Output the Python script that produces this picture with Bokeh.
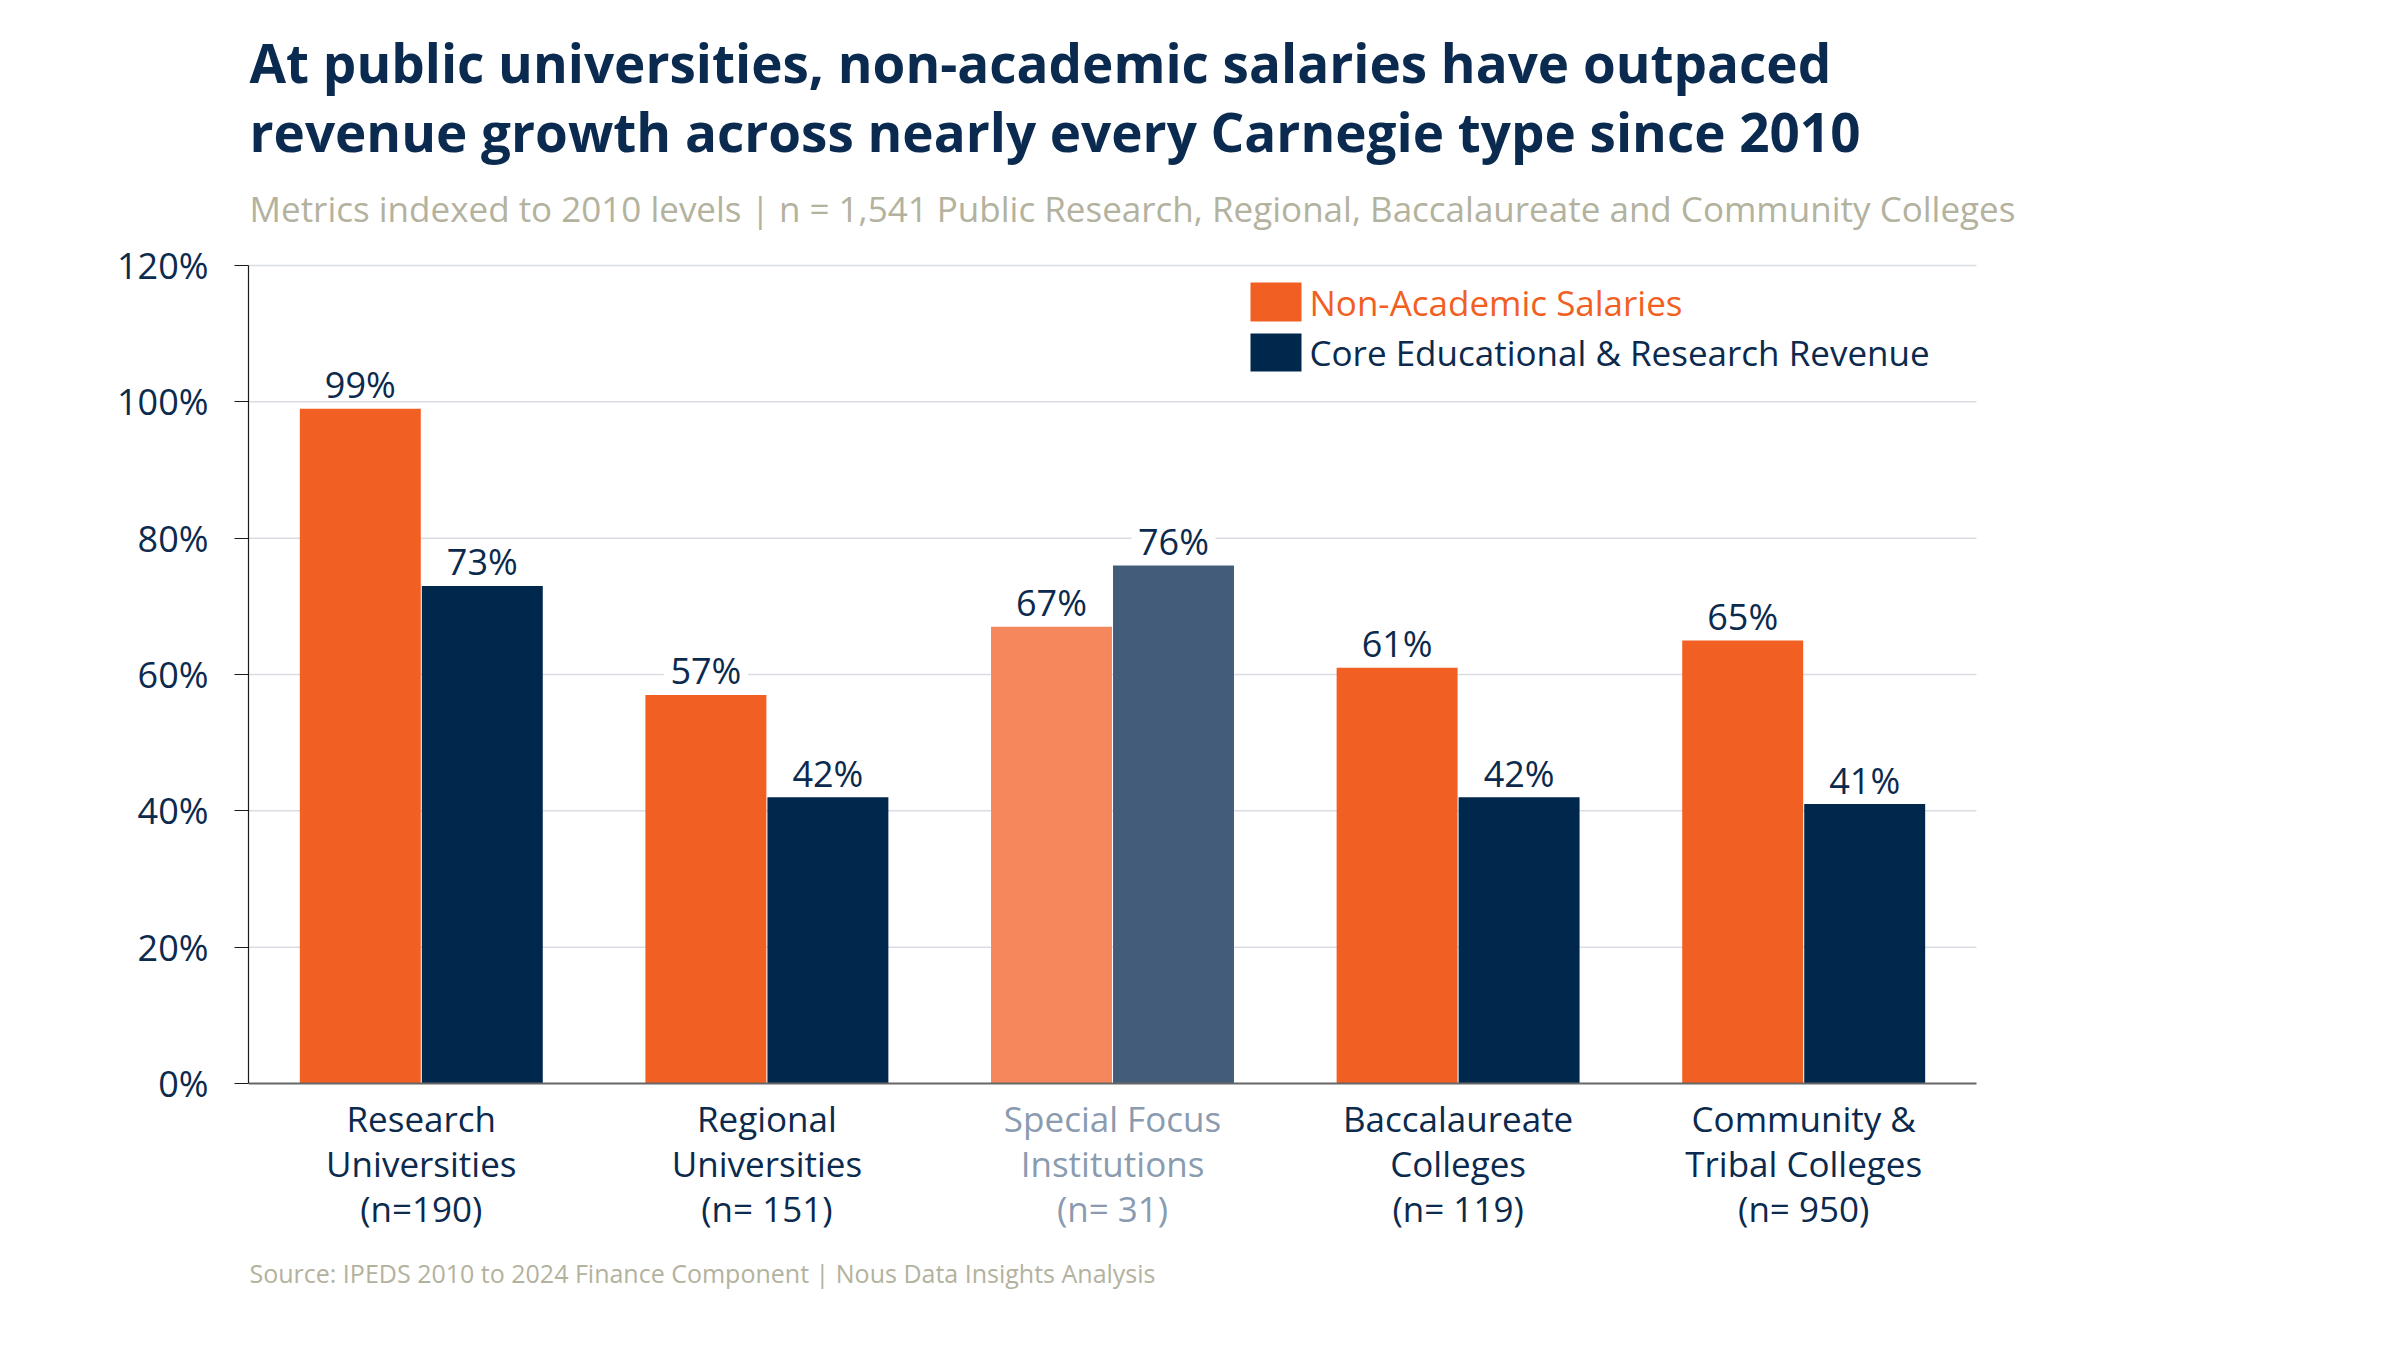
from bokeh.plotting import figure
from bokeh.models import Range1d, FixedTicker, Label
from bokeh.embed import file_html
from bokeh.resources import INLINE

# ---- data -------------------------------------------------------------
category_lines = [
    ["Research", "Universities", "(n=190)"],
    ["Regional", "Universities", "(n= 151)"],
    ["Special Focus", "Institutions", "(n= 31)"],
    ["Baccalaureate", "Colleges", "(n= 119)"],
    ["Community &", "Tribal Colleges", "(n= 950)"],
]
non_academic_salaries = [99, 57, 67, 61, 65]
core_revenue = [73, 42, 76, 42, 41]
muted_category = [False, False, True, False, False]
y_ticks = [0, 20, 40, 60, 80, 100, 120]

# ---- style ------------------------------------------------------------
FONT = "Open Sans"
ORANGE = "#F15F22"
NAVY = "#00284D"
ORANGE_MUTED = "#F4885C"
NAVY_MUTED = "#425C7A"
TEXT_NAVY = "#0B2A4D"
MUTED_TEXT = "#8A9BB0"
KHAKI = "#B3B29E"
GRID = "#D9DDE3"

W, H = 2400, 1350
N = len(category_lines)
YMAX = 120
# chart area in pixels: categories span x 248..1976, values 0..120 span y 1083..265
AX_L, AX_R, AX_T, AX_B = 248, 1976, 265, 1083
PX_X = (AX_R - AX_L) / N
PX_Y = (AX_B - AX_T) / YMAX


def dx(px):
    return (px - AX_L) / PX_X


def dy(py):
    return (AX_B - py) / PX_Y


# the frame covers the whole canvas right of the value axis so that the
# headings, legend and category labels live inside it
p = figure(width=W, height=H, output_backend="svg", toolbar_location=None,
           x_range=Range1d(0, dx(W)), y_range=Range1d(dy(H), dy(0)),
           x_axis_location=None,
           min_border_left=AX_L, min_border_right=0,
           min_border_top=0, min_border_bottom=0)
p.outline_line_color = None
p.background_fill_color = "white"
p.border_fill_color = "white"
p.xgrid.visible = False
p.ygrid.visible = False

# value axis
p.yaxis.bounds = (0, YMAX)
p.yaxis.ticker = FixedTicker(ticks=y_ticks)
p.yaxis.major_label_overrides = {t: f"{t}%" for t in y_ticks}
p.yaxis.major_label_text_font = FONT
p.yaxis.major_label_text_font_size = "36px"
p.yaxis.major_label_text_color = TEXT_NAVY
p.yaxis.axis_line_color = "#1a1a1a"
p.yaxis.axis_line_width = 1.2
p.yaxis.major_tick_line_color = "#1a1a1a"
p.yaxis.major_tick_in = 0
p.yaxis.major_tick_out = 14
p.yaxis.minor_tick_line_color = None
p.yaxis.major_label_standoff = 26

# horizontal gridlines across the category span, then the baseline
grid_y = [t for t in y_ticks if t > 0]
p.segment(x0=[0] * len(grid_y), x1=[N] * len(grid_y), y0=grid_y, y1=grid_y,
          line_color=GRID, line_width=1.5)

# bars
centers = [i + 0.5 for i in range(N)]
bw = 0.35
off = 0.1765
sal_colors = [ORANGE_MUTED if m else ORANGE for m in muted_category]
rev_colors = [NAVY_MUTED if m else NAVY for m in muted_category]
p.vbar(x=[c - off for c in centers], top=non_academic_salaries, width=bw,
       fill_color=sal_colors, line_color=None)
p.vbar(x=[c + off for c in centers], top=core_revenue, width=bw,
       fill_color=rev_colors, line_color=None)

p.segment(x0=[0], x1=[N], y0=[0], y1=[0], line_color="#666666", line_width=2)

# value labels (white backing where a gridline runs through the text)
lab_gap = 24 / PX_Y
box_half_h = 16 / PX_Y
box_half_w = 42 / PX_X
for xs, vals in (([c - off for c in centers], non_academic_salaries),
                 ([c + off for c in centers], core_revenue)):
    for x, v in zip(xs, vals):
        y = v + lab_gap
        if any(abs(t - y) < box_half_h for t in grid_y):
            p.quad(left=x - box_half_w, right=x + box_half_w,
                   bottom=y - box_half_h, top=y + box_half_h,
                   fill_color="white", line_color=None)
        p.add_layout(Label(x=x, y=y, text=f"{v}%", text_align="center",
                           text_baseline="middle", text_font=FONT,
                           text_font_size="36px", text_color=TEXT_NAVY))

# category labels
for c, lines, m in zip(centers, category_lines, muted_category):
    for k, line in enumerate(lines):
        p.add_layout(Label(x=c, y=dy(1118 + 45 * k), text=line,
                           text_align="center", text_baseline="middle",
                           text_font=FONT, text_font_size="35px",
                           text_color=MUTED_TEXT if m else TEXT_NAVY))

# legend
legend_items = [("Non-Academic Salaries", ORANGE, ORANGE, 282, 321),
                ("Core Educational & Research Revenue", NAVY, TEXT_NAVY, 333, 371)]
for text, fill, tcolor, top, bot in legend_items:
    p.quad(left=dx(1250), right=dx(1301), top=dy(top), bottom=dy(bot),
           fill_color=fill, line_color=None)
    p.add_layout(Label(x=dx(1309), y=dy((top + bot) / 2), text=text,
                       text_align="left", text_baseline="middle",
                       text_font=FONT, text_font_size="35px", text_color=tcolor))

# headings
title_lines = ["At public universities, non-academic salaries have outpaced",
               "revenue growth across nearly every Carnegie type since 2010"]
for k, line in enumerate(title_lines):
    p.add_layout(Label(x=dx(249), y=dy(62 + 69 * k), text=line,
                       text_align="left", text_baseline="middle",
                       text_font=FONT, text_font_style="bold",
                       text_font_size="53px", text_color="#0A2A4F"))

p.add_layout(Label(x=dx(249), y=dy(208),
                   text="Metrics indexed to 2010 levels | n = 1,541 Public Research, "
                        "Regional, Baccalaureate and Community Colleges",
                   text_align="left", text_baseline="middle", text_font=FONT,
                   text_font_size="35px", text_color=KHAKI))

p.add_layout(Label(x=dx(249), y=dy(1272),
                   text="Source: IPEDS 2010 to 2024 Finance Component | "
                        "Nous Data Insights Analysis",
                   text_align="left", text_baseline="middle", text_font=FONT,
                   text_font_size="25px", text_color=KHAKI))

open("out.html", "w").write(file_html(p, INLINE))
